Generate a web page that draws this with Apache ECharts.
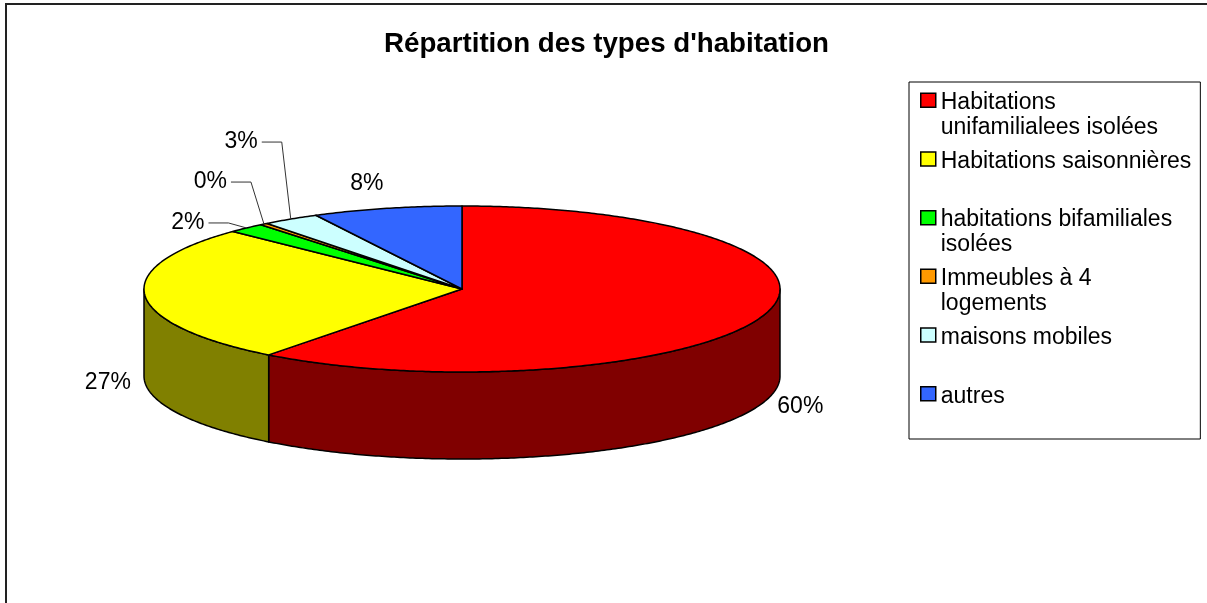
<!DOCTYPE html>
<html><head><meta charset="utf-8">
<script src="https://cdn.jsdelivr.net/npm/echarts@6/dist/echarts.min.js"></script>
<style>html,body{margin:0;padding:0;background:#fff}#c{width:1207px;height:603px}</style>
</head><body><div id="c"></div>
<script>
const titleText = "Répartition des types d'habitation";
const categories = ['Habitations unifamilialees isolées', 'Habitations saisonnières', 'habitations bifamiliales isolées', 'Immeubles à 4 logements', 'maisons mobiles', 'autres'];
const values = [60.4, 26.8, 1.9, 0.4, 2.9, 7.6];
const legendLabels = ['Habitations\nunifamilialees isolées', 'Habitations saisonnières\n ', 'habitations bifamiliales\nisolées', 'Immeubles à 4\nlogements', 'maisons mobiles\n ', 'autres\n '];
const colors = ['#ff0000', '#ffff00', '#00ff00', '#ff9900', '#ccffff', '#3366ff'];
const sideColors = ['#800000', '#808000', '#008000', '#804d00', '#668080', '#1a3380'];

const geo = {cx: 462, cy: 289, rx: 318, ry: 83, depth: 87};
const labelLayout = [
  {type: 'auto', dx: 1, dy: 1},
  {type: 'auto', dx: 1, dy: 0},
  {type: 'leader', dx: -18, dy: -5},
  {type: 'leader', dx: -13, dy: -42},
  {type: 'leader', dx: -9, dy: -77},
  {type: 'auto', dx: -11, dy: -15}
];
const FONT = '"Liberation Sans", Arial, sans-serif';
const total = values.reduce((a, b) => a + b, 0);

function pt(t, f, d) {
  return [geo.cx + geo.rx * f * Math.sin(t), geo.cy - geo.ry * f * Math.cos(t) + d];
}
function arc(s, e, d) {
  const n = Math.max(2, Math.ceil((e - s) / 0.01));
  const out = [];
  for (let j = 0; j <= n; j++) out.push(pt(s + (e - s) * j / n, 1, d));
  return out;
}
function makeRender(i) {
  return function (params, api) {
    let cum = 0;
    for (let k = 0; k < i; k++) cum += values[k];
    const v = api.value(0);
    const a0 = cum / total * 2 * Math.PI, a1 = (cum + v) / total * 2 * Math.PI;
    const children = [];
    const ws = Math.max(a0, Math.PI / 2), we = Math.min(a1, 3 * Math.PI / 2);
    if (we > ws) {
      const top = arc(ws, we, 0), bot = arc(ws, we, geo.depth).reverse();
      children.push({type: 'polygon', z2: 1, shape: {points: top.concat(bot)},
        style: {fill: sideColors[i], stroke: '#000', lineWidth: 1.5, lineJoin: 'round'}});
    }
    children.push({type: 'polygon', z2: 5, shape: {points: [[geo.cx, geo.cy]].concat(arc(a0, a1, 0))},
      style: {fill: colors[i], stroke: '#000', lineWidth: 1.5, lineJoin: 'round'}});
    const mid = (a0 + a1) / 2;
    const pct = Math.round(v / total * 100) + '%';
    const L = labelLayout[i];
    if (L.type === 'auto') {
      const p = pt(mid, 1.12, Math.cos(mid) < 0 ? geo.depth : 0);
      children.push({type: 'text', z2: 10, style: {text: pct, x: p[0] + L.dx, y: p[1] + L.dy,
        align: 'center', verticalAlign: 'middle', font: '23px ' + FONT, fill: '#000'}});
    } else {
      const p = pt(mid, 1, 0);
      const e = [p[0] + L.dx, p[1] + L.dy];
      children.push({type: 'polyline', z2: 10, shape: {points: [[e[0] - 20, e[1]], e, p]},
        style: {stroke: '#333', lineWidth: 1, fill: null}});
      children.push({type: 'text', z2: 10, style: {text: pct, x: e[0] - 24, y: e[1],
        align: 'right', verticalAlign: 'middle', font: '23px ' + FONT, fill: '#000'}});
    }
    return {type: 'group', children: children};
  };
}

const chart = echarts.init(document.getElementById('c'), null, {renderer: 'canvas'});
chart.setOption({
  animation: false,
  backgroundColor: '#fff',
  title: {text: titleText, left: 384, top: 30, padding: 0,
    textStyle: {fontFamily: FONT, fontSize: 27.7, fontWeight: 'bold', color: '#000'}},
  legend: {
    orient: 'vertical', left: 909, top: 82,
    data: categories,
    formatter: name => legendLabels[categories.indexOf(name)],
    icon: 'path://M0,0M0,3L15,3L15,17L0,17ZM15,50',
    itemWidth: 15, itemHeight: 50, itemGap: 7.2,
    padding: [7.5, 9, 4.5, 11],
    borderColor: '#000', borderWidth: 1,
    itemStyle: {borderColor: '#000', borderWidth: 1.5},
    textStyle: {fontFamily: FONT, fontSize: 23, lineHeight: 25, color: '#000'},
    selectedMode: false
  },
  graphic: [{type: 'rect', shape: {x: 6, y: 4, width: 1400, height: 800},
    style: {fill: null, stroke: '#222', lineWidth: 2}, silent: true}],
  series: categories.map((name, i) => ({
    type: 'custom', name: name, coordinateSystem: 'none',
    data: [[values[i]]], itemStyle: {color: colors[i]},
    renderItem: makeRender(i), silent: true
  }))
});
</script></body></html>
